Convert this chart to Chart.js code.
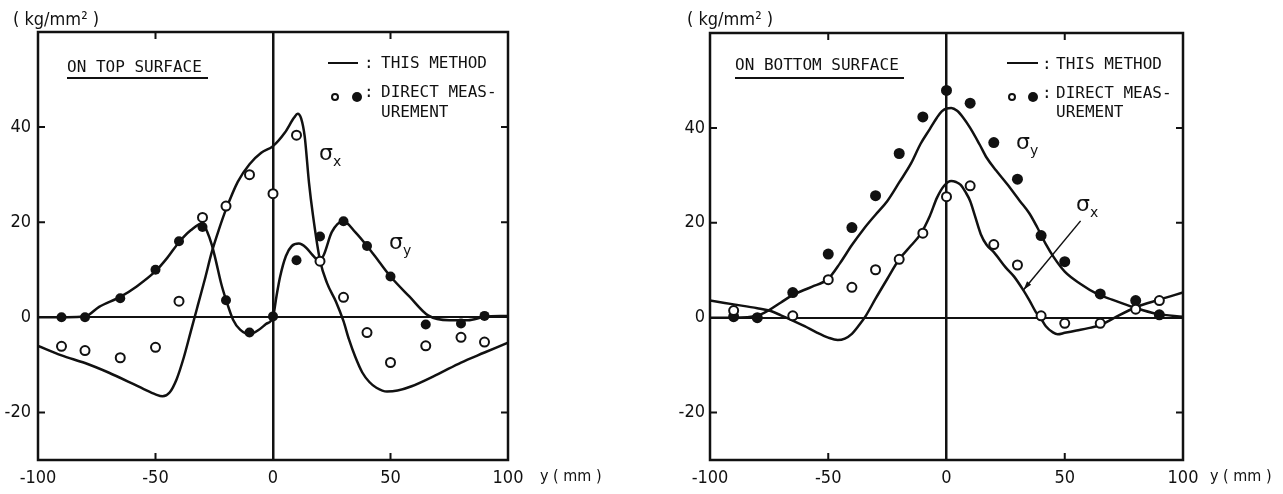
<!DOCTYPE html>
<html>
<head>
<meta charset="utf-8">
<script src="https://cdn.jsdelivr.net/npm/chart.js@4/dist/chart.umd.min.js"></script>
<style>
  html, body { margin: 0; padding: 0; background: #fff; }
  #page { position: relative; width: 1283px; height: 494px; overflow: hidden; color: #111;
          font-family: "DejaVu Sans Mono", monospace; }
  canvas { position: absolute; top: 0; }
  .t    { position: absolute; white-space: nowrap; font-size: 16px; line-height: 16px; }
  .unit { position: absolute; white-space: nowrap; font-size: 18px; line-height: 18px;
          font-family: "DejaVu Sans Condensed", "Liberation Sans Narrow", "DejaVu Sans", sans-serif; }
  .sig  { position: absolute; white-space: nowrap; font-size: 22px; line-height: 22px;
          font-family: "DejaVu Sans", sans-serif; }
  .sig sub { font-size: 14px; vertical-align: -6px; }
  .bar  { position: absolute; height: 2px; background: #111; }
  .open { position: absolute; width: 8px; height: 8px; box-sizing: border-box;
          border: 2px solid #111; border-radius: 50%; }
  .dot  { position: absolute; width: 10px; height: 10px; background: #111; border-radius: 50%; }
</style>
</head>
<body>
<div id="page">
  <canvas id="top" width="640" height="494" style="left:0"></canvas>
  <canvas id="bottom" width="643" height="494" style="left:640px"></canvas>

  <!-- left panel text -->
  <div class="unit" style="left:13px;top:10px">( kg/mm² )</div>
  <div class="t" style="left:67px;top:59px">ON TOP SURFACE</div>
  <div class="bar" style="left:67px;top:77px;width:141px"></div>
  <div class="bar" style="left:328px;top:62px;width:30px"></div>
  <div class="t" style="left:364px;top:55px">:</div>
  <div class="t" style="left:381px;top:55px">THIS METHOD</div>
  <div class="open" style="left:331px;top:93px"></div>
  <div class="dot" style="left:352px;top:92px"></div>
  <div class="t" style="left:364px;top:84px">:</div>
  <div class="t" style="left:381px;top:84px">DIRECT MEAS-</div>
  <div class="t" style="left:381px;top:104px">UREMENT</div>
  <div class="sig" style="left:319px;top:142px">σ<sub>x</sub></div>
  <div class="sig" style="left:389px;top:231px">σ<sub>y</sub></div>
  <div class="unit" style="left:540px;top:467px;font-size:16px">y ( mm )</div>

  <!-- right panel text -->
  <div class="unit" style="left:687px;top:10px">( kg/mm² )</div>
  <div class="t" style="left:735px;top:57px">ON BOTTOM SURFACE</div>
  <div class="bar" style="left:735px;top:77px;width:169px"></div>
  <div class="bar" style="left:1007px;top:62px;width:31px"></div>
  <div class="t" style="left:1042px;top:56px">:</div>
  <div class="t" style="left:1056px;top:56px">THIS METHOD</div>
  <div class="open" style="left:1008px;top:93px"></div>
  <div class="dot" style="left:1028px;top:92px"></div>
  <div class="t" style="left:1042px;top:85px">:</div>
  <div class="t" style="left:1056px;top:85px">DIRECT MEAS-</div>
  <div class="t" style="left:1056px;top:104px">UREMENT</div>
  <div class="sig" style="left:1016px;top:131px">σ<sub>y</sub></div>
  <div class="sig" style="left:1076px;top:193px">σ<sub>x</sub></div>
  <div class="unit" style="left:1210px;top:467px;font-size:16px">y ( mm )</div>
</div>

<script>
// axis ticks
var X_TICKS       = [-100, -50, 0, 50, 100]
  , Y_TICKS       = [-20, 0, 20, 40]
  , INNER_X_TICKS = [-50, 50]
  , INNER_Y_TICKS = [40, 20, -20]

// measuring stations, y (mm)
var stations = [-90, -80, -65, -50, -40, -30, -20, -10, 0, 10, 20, 30, 40, 50, 65, 80, 90]

// ---- top surface ----
var topMeasSx = [-6.1, -7, -8.5, -6.3, 3.4, 21, 23.4, 30, 26, 38.3, 11.8, 4.2, -3.2, -9.5, -6, -4.2, -5.2]
var topMeasSy = [0, 0, 4, 10, 16, 19, 3.6, -3.2, 0.2, 12, 17, 20.2, 15, 8.6, -1.5, -1.3, 0.3]

var topCalcSxX = [-100, -90, -80, -70, -60, -55, -50, -47, -44, -41, -38, -35, -32, -29, -26, -23, -20, -15, -10, -5,
                  0, 5, 9, 10.5, 12, 13.5, 15.3, 17, 20, 23, 26.8, 30, 32.3, 35, 38, 41, 44, 48.5, 53, 59, 70, 80, 90, 100]
var topCalcSx  = [-6, -8, -9.6, -11.6, -13.9, -15.1, -16.2, -16.6, -15.8, -13, -8.5, -3, 2.5, 8, 13.8, 18.5, 22.7, 28.5, 32.2, 34.6,
                  36, 38.8, 42, 42.8, 41.8, 38, 28.4, 21.5, 12, 7.2, 3.3, -0.8, -4.6, -8.3, -11.6, -13.6, -14.8, -15.6, -15.4, -14.5, -12, -9.5, -7.4, -5.3]

var topCalcSyX = [-100, -80, -74, -65, -58, -50, -45, -40, -35, -30, -28, -26, -24.5, -22, -20, -17, -14, -10, -6, -3,
                  0, 1.5, 3, 5.5, 8, 11, 14, 17, 19.5, 21.5, 25, 30, 35, 40, 45, 50, 58, 66, 75, 83, 90, 100]
var topCalcSy  = [0, 0.2, 2.2, 4.3, 6.5, 9.7, 12.5, 15.8, 18.3, 19.8, 18, 15.2, 12.3, 7, 3.7, -0.5, -2.6, -3.5, -2.6, -1.4,
                  0.1, 4.5, 8.5, 12.9, 15, 15.5, 14.7, 13, 12, 13, 17.9, 20.2, 17.9, 15, 11.8, 8.6, 4.4, 0.4, -0.6, -0.6, 0.1, 0.3]

// ---- bottom surface ----
var botMeasSx = [1.5, null, 0.4, 8, 6.4, 10.1, 12.3, 17.8, 25.5, 27.8, 15.4, 11.1, 0.4, -1.2, -1.2, 1.8, 3.6]
var botMeasSy = [0.2, 0, 5.3, 13.4, 19, 25.7, 34.6, 42.3, 47.9, 45.2, 36.9, 29.2, 17.3, 11.8, 5, 3.6, 0.6]

var botCalcSxX = [-100, -90, -80, -75, -70, -65, -60, -55, -50, -46, -43, -40, -37, -34, -30, -25, -20, -15, -11, -7,
                  -4, -1, 2, 4, 6, 8, 10, 12, 14.5, 17, 20, 25, 28.5, 32.6, 35, 38, 39.7, 42, 45, 47, 50, 55, 60, 65, 70, 80, 90, 100]
var botCalcSx  = [3.6, 2.8, 2, 1.5, 0.5, -0.6, -1.8, -3.1, -4.2, -4.7, -4.4, -3.4, -1.6, 0.5, 4, 8.2, 12.3, 15.2, 17.6, 21.5,
                  25.3, 27.8, 28.8, 28.6, 28, 26.5, 24.6, 21.5, 17.6, 15.3, 13.8, 10.6, 8.7, 5.7, 3.7, 1, 0, -1.8, -3.1, -3.5, -3.2, -2.7, -2.2, -1.6, -0.3, 2.2, 3.8, 5.3]

var botCalcSyX = [-100, -90, -80, -75, -70, -65, -57, -50, -45, -40, -35, -30, -25, -20, -15, -11, -7, -4, -2, 0,
                  2, 4.5, 7, 10, 14, 17, 21, 25.7, 31, 35, 38.4, 42, 45.4, 50, 56.7, 63.7, 70, 79, 89, 100]
var botCalcSy  = [0, 0, 0.4, 1.6, 3.2, 4.8, 6.5, 8.2, 11.5, 15.3, 18.7, 21.7, 24.6, 28.5, 32.5, 36.6, 39.8, 42.2, 43.5, 44.1,
                  44.2, 43.6, 42.2, 40, 36.5, 33.7, 31, 28.1, 24.6, 22, 19, 15.5, 12.7, 9.7, 7.1, 5, 3.8, 2.2, 0.8, 0.2]

// leader line from the sigma-x label to its curve (bottom surface)
var botLeaderFrom = [56.7, 20.4]
var botLeaderTo   = [32.6, 5.9]

var INK       = "#111"
  , TICK_FONT = {family: '"DejaVu Sans Condensed", "Liberation Sans Narrow", "DejaVu Sans", sans-serif', size: 18}
  , TICK_LEN  = 7

function points(xs, ys) {
  return xs.map(function(x, i) { return {x: x, y: ys[i]} })
}

function curve(xs, ys) {
  return { data: points(xs, ys), showLine: true, pointRadius: 0, borderColor: INK
         , borderWidth: 2.5, cubicInterpolationMode: "monotone", order: 2 }
}

function openMarks(ys) {
  return { data: points(stations, ys), pointRadius: 4.5, pointBorderWidth: 2
         , pointBackgroundColor: "#fff", pointBorderColor: INK, order: 1 }
}

function filledMarks(ys, r) {
  return { data: points(stations, ys), pointRadius: r, pointBorderWidth: 0
         , pointBackgroundColor: INK, pointBorderColor: INK, order: 1 }
}

function zeroLine(width) {
  return { color: function(c) { return c.tick && c.tick.value === 0 ? INK : "rgba(0,0,0,0)" }
         , lineWidth: width, drawTicks: false }
}

var framePlugin = {
  id: "frame",
  afterDraw: function(chart, args, opts) {
    var ctx = chart.ctx, a = chart.chartArea, x = chart.scales.x, y = chart.scales.y
    ctx.save()
    ctx.strokeStyle = INK
    ctx.lineWidth = 2.5
    ctx.strokeRect(a.left, a.top, a.right - a.left, a.bottom - a.top)
    ctx.lineWidth = 2
    ctx.beginPath()
    INNER_Y_TICKS.forEach(function(v) {
      var py = y.getPixelForValue(v)
      ctx.moveTo(a.left, py);  ctx.lineTo(a.left + TICK_LEN, py)
      ctx.moveTo(a.right, py); ctx.lineTo(a.right - TICK_LEN, py)
    })
    INNER_X_TICKS.forEach(function(v) {
      var px = x.getPixelForValue(v)
      ctx.moveTo(px, a.top);    ctx.lineTo(px, a.top + TICK_LEN)
      ctx.moveTo(px, a.bottom); ctx.lineTo(px, a.bottom - TICK_LEN)
    })
    ctx.stroke()

    if (opts.leader) {
      var x0 = x.getPixelForValue(opts.leader[0][0]), y0 = y.getPixelForValue(opts.leader[0][1])
        , x1 = x.getPixelForValue(opts.leader[1][0]), y1 = y.getPixelForValue(opts.leader[1][1])
        , ang = Math.atan2(y1 - y0, x1 - x0)
      ctx.lineWidth = 1.5
      ctx.beginPath()
      ctx.moveTo(x0, y0); ctx.lineTo(x1, y1)
      ctx.stroke()
      ctx.fillStyle = INK
      ctx.beginPath()
      ctx.moveTo(x1, y1)
      ctx.lineTo(x1 - 9 * Math.cos(ang - 0.3), y1 - 9 * Math.sin(ang - 0.3))
      ctx.lineTo(x1 - 9 * Math.cos(ang + 0.3), y1 - 9 * Math.sin(ang + 0.3))
      ctx.closePath()
      ctx.fill()
    }
    ctx.restore()
  }
}

function makeChart(id, s) {
  return new Chart(document.getElementById(id), {
    type: "scatter",
    data: { datasets: [ openMarks(s.measSx), filledMarks(s.measSy, s.dotR), curve(s.sxX, s.sx), curve(s.syX, s.sy) ] },
    options: {
      responsive: false,
      animation: false,
      events: [],
      layout: { padding: { left: 0, top: s.top, right: s.right, bottom: 0 } },
      plugins: { legend: { display: false }, tooltip: { enabled: false }, frame: { leader: s.leader } },
      scales: {
        x: { type: "linear", min: -100, max: 100
           , afterBuildTicks: function(sc) { sc.ticks = X_TICKS.map(function(v) { return {value: v} }) }
           , afterFit: function(sc) { sc.height = 34 }
           , grid: zeroLine(2.5), border: { display: false }
           , ticks: { font: TICK_FONT, color: INK, padding: 8, maxRotation: 0, autoSkip: false } },
        y: { type: "linear", min: -30, max: 60
           , afterBuildTicks: function(sc) { sc.ticks = Y_TICKS.map(function(v) { return {value: v} }) }
           , afterFit: function(sc) { sc.width = s.axisW }
           , grid: zeroLine(2), border: { display: false }
           , ticks: { font: TICK_FONT, color: INK, padding: s.labelPad } }
      }
    },
    plugins: [framePlugin]
  })
}

makeChart("top", { measSx: topMeasSx, measSy: topMeasSy, sxX: topCalcSxX, sx: topCalcSx, syX: topCalcSyX, sy: topCalcSy
                 , dotR: 5, top: 32, right: 132, axisW: 38, labelPad: 7 })
makeChart("bottom", { measSx: botMeasSx, measSy: botMeasSy, sxX: botCalcSxX, sx: botCalcSx, syX: botCalcSyX, sy: botCalcSy
                    , dotR: 5.5, top: 33, right: 100, axisW: 70, labelPad: 5, leader: [botLeaderFrom, botLeaderTo] })
</script>
</body>
</html>
